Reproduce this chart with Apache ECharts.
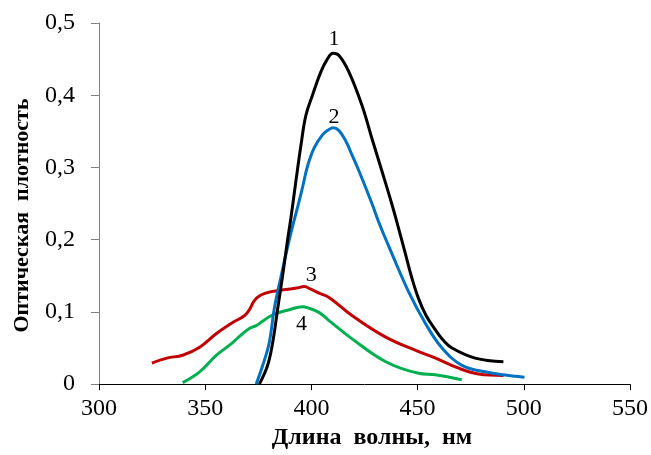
<!DOCTYPE html>
<html>
<head>
<meta charset="utf-8">
<script src="https://cdn.jsdelivr.net/npm/echarts@6/dist/echarts.min.js"></script>
<style>html,body{margin:0;padding:0;background:#fff;}#c{width:651px;height:455px;}</style>
</head>
<body>
<div id="c"></div>
<script>
// Curve 1 (black)
const wl1 = [375.5, 379.4, 381.8, 384.1, 386.4, 388.8, 390.4, 392.7, 395.1, 397.4, 400.5, 404.4, 407.5, 410.2, 413, 417.7, 423.8, 428.5, 433.2, 437.9, 441.2, 444.3, 447, 450.5, 454, 458.4, 462, 466.2, 477.1, 490.4];
const od1 = [0, 0.026, 0.058, 0.104, 0.149, 0.2, 0.231, 0.281, 0.331, 0.372, 0.40, 0.432, 0.45, 0.458, 0.455, 0.432, 0.386, 0.34, 0.295, 0.249, 0.214, 0.18, 0.15, 0.118, 0.095, 0.075, 0.061, 0.05, 0.036, 0.031];
// Curve 2 (blue)
const wl2 = [374, 377.1, 380.2, 382.5, 385.7, 388.8, 391.1, 393.5, 395.8, 398.2, 401.3, 405.2, 408, 410.2, 413, 416.3, 419, 422.4, 428.5, 432, 438, 445.9, 453.7, 461.5, 470.9, 481.7, 490, 500.3];
const od2 = [0, 0.026, 0.058, 0.104, 0.149, 0.19, 0.218, 0.245, 0.272, 0.302, 0.327, 0.345, 0.352, 0.355, 0.351, 0.336, 0.318, 0.295, 0.25, 0.222, 0.18, 0.127, 0.084, 0.05, 0.026, 0.017, 0.013, 0.0096];
// Curve 3 (red)
const wl3 = [324.9, 331.9, 339.4, 347.4, 355.3, 362.8, 368.6, 371, 373, 376, 381, 388, 393, 396.6, 400, 403.7, 408.3, 419.1, 435, 450.5, 458.5, 469.3, 478.7, 490.4];
const od3 = [0.029, 0.036, 0.04, 0.051, 0.07, 0.085, 0.095, 0.104, 0.115, 0.123, 0.128, 0.131, 0.133, 0.135, 0.131, 0.126, 0.12, 0.095, 0.065, 0.045, 0.036, 0.022, 0.014, 0.012];
// Curve 4 (green)
const wl4 = [339.4, 347.4, 355.3, 362.8, 366.1, 370.8, 374, 377, 381.8, 389.6, 395.8, 398, 403.7, 408.3, 419, 435, 450.5, 458.5, 470.8];
const od4 = [0.002, 0.017, 0.04, 0.057, 0.066, 0.077, 0.081, 0.087, 0.096, 0.103, 0.107, 0.106, 0.099, 0.088, 0.063, 0.031, 0.015, 0.013, 0.006];

const curveNames = ['1', '2', '3', '4'];
const xTitle = 'Длина  волны,  нм';
const yTitle = 'Оптическая  плотность';

const FONT = '"Liberation Serif", "Times New Roman", serif';
const colors = ['#000000', '#0070C0', '#C00000', '#00B050'];
const labelOffsets = [[1, -14], [1, -11], [7, -11], [-1, 17]];
const wls = [wl1, wl2, wl3, wl4];
const ods = [od1, od2, od3, od4];

const series = wls.map((wl, i) => ({
  type: 'line',
  name: curveNames[i],
  data: wl.map((x, j) => [x, ods[i][j]]),
  smooth: 0.4,
  showSymbol: false,
  symbol: 'none',
  lineStyle: { color: colors[i], width: 3 },
  itemStyle: { color: colors[i] },
  z: 10 - i,
  markPoint: {
    symbol: 'circle',
    symbolSize: 2,
    itemStyle: { color: 'rgba(0,0,0,0)' },
    label: {
      show: true,
      position: 'inside',
      formatter: curveNames[i],
      color: '#000',
      fontFamily: FONT,
      fontSize: 22,
      offset: labelOffsets[i]
    },
    data: [{ type: 'max' }]
  }
}));

const chart = echarts.init(document.getElementById('c'), null, { renderer: 'canvas' });
chart.setOption({
  animation: false,
  backgroundColor: '#fff',
  grid: { left: 99, right: 19, top: 23, bottom: 66, containLabel: false },
  xAxis: {
    type: 'value',
    min: 300, max: 550, interval: 50,
    name: xTitle,
    nameLocation: 'middle',
    nameGap: 38,
    nameTextStyle: { fontFamily: FONT, fontSize: 24, fontWeight: 'bold', color: '#000', padding: [0, 0, 0, 15] },
    axisLine: { show: true, lineStyle: { color: '#000', width: 1 } },
    axisTick: { show: true, length: 6, lineStyle: { color: '#000' } },
    axisLabel: { fontFamily: FONT, fontSize: 24, color: '#000', margin: 13 },
    splitLine: { show: false }
  },
  yAxis: {
    type: 'value',
    min: 0, max: 0.5, interval: 0.1,
    name: yTitle,
    nameLocation: 'middle',
    nameGap: 66,
    nameTextStyle: { fontFamily: FONT, fontSize: 22, fontWeight: 'bold', color: '#000', padding: [0, 24, 0, 0] },
    axisLine: { show: true, lineStyle: { color: '#808080', width: 1 } },
    axisTick: { show: true, length: 8, lineStyle: { color: '#808080' } },
    axisLabel: {
      fontFamily: FONT, fontSize: 24, color: '#000', margin: 24,
      formatter: v => (Math.round(v * 10) / 10).toString().replace('.', ',')
    },
    splitLine: { show: false }
  },
  series: series
});
</script>
</body>
</html>
